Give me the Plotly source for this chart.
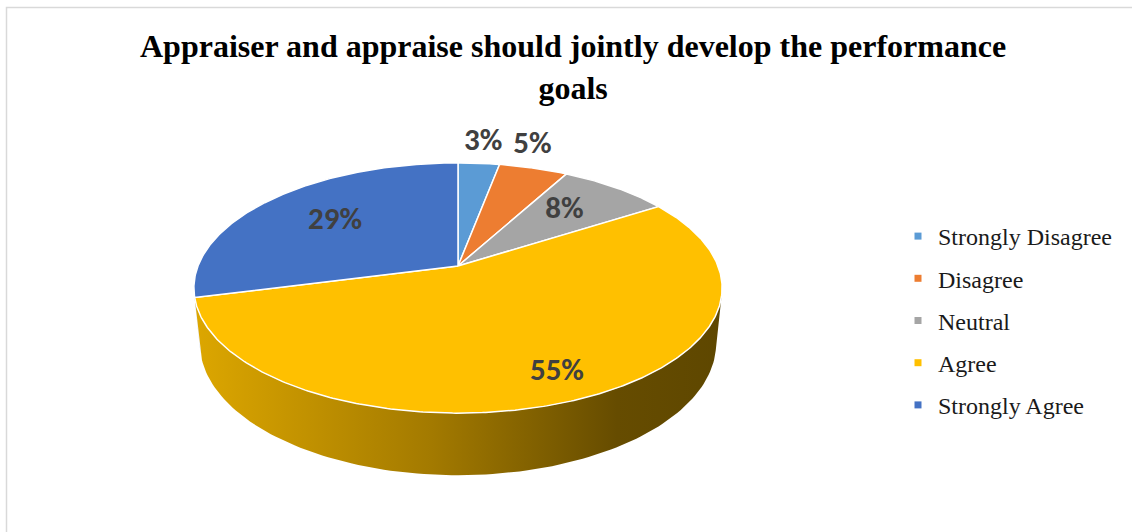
import numpy as np
import plotly.graph_objects as go

# ---------------- data ----------------
categories = ["Strongly Disagree", "Disagree", "Neutral", "Agree", "Strongly Agree"]
shares = [3, 5, 8, 55, 29]
pct_labels = ["3%", "5%", "8%", "55%", "29%"]
slice_colors = ["#5b9bd5", "#ed7d31", "#a5a5a5", "#ffc000", "#4472c4"]
title_text = "Appraiser and appraise should jointly develop the performance<br>goals"

# ---------------- styling / 3D projection parameters ----------------
W, H = 1132, 532
CX, CY = 458.0, 266.0      # projected pie centre (pixels)
RX = 260.0                 # horizontal radius scale (pixels)
TILT = np.radians(27.8)    # elevation of the viewer
DIST = 5.03                # camera distance (in pie radii)
THICK = 0.243              # pie thickness (in pie radii)
LABEL_RHO = [1.25, 1.26, 0.67, 0.83, 0.64]
LABEL_TURN = [0.0, -3.8, -1.5, 0.0, 0.0]


def project(theta, rho=1.0, elev=0.0):
    X = rho * np.sin(theta)
    Z = -rho * np.cos(theta)
    d = DIST - elev * np.sin(TILT) - Z * np.cos(TILT)
    sx = CX + RX * DIST * X / d
    sy = CY - RX * DIST * (elev * np.cos(TILT) - Z * np.sin(TILT)) / d
    return sx, sy


def shade(hex_color, f):
    h = hex_color.lstrip("#")
    r, g, b = (int(h[i:i + 2], 16) for i in (0, 2, 4))
    return f"rgb({int(r * f)},{int(g * f)},{int(b * f)})"


vals = np.array(shares, dtype=float)
bounds = np.concatenate([[0.0], np.cumsum(vals)]) / vals.sum() * 2 * np.pi

fig = go.Figure()

# side walls (visible front part of the cylinder)
theta_a = np.arccos(-1.0 / (DIST * np.cos(TILT)))
theta_b = 2 * np.pi - theta_a
for i, cat in enumerate(categories):
    lo, hi = max(bounds[i], theta_a), min(bounds[i + 1], theta_b)
    if hi <= lo:
        continue
    th = np.linspace(lo, hi, 120)
    tx, ty = project(th)
    bx, by = project(th[::-1], elev=-THICK)
    xs = np.concatenate([tx, bx, tx[:1]])
    ys = np.concatenate([ty, by, ty[:1]])
    c = slice_colors[i]
    fig.add_trace(go.Scatter(
        x=xs, y=ys, mode="lines", fill="toself",
        line=dict(width=0, color=shade(c, 0.6)),
        fillgradient=dict(
            type="horizontal",
            colorscale=[[0, shade(c, 0.87)], [0.45, shade(c, 0.64)],
                        [0.8, shade(c, 0.40)], [1, shade(c, 0.37)]],
            start=CX - RX * 1.02, stop=CX + RX * 1.02),
        hoverinfo="skip", showlegend=False))

# top faces
for i, cat in enumerate(categories):
    th = np.linspace(bounds[i], bounds[i + 1], max(8, int(shares[i] * 6)))
    rx_, ry_ = project(th)
    ax, ay = project(np.array([0.0]), rho=0.0)
    xs = np.concatenate([ax, rx_, ax])
    ys = np.concatenate([ay, ry_, ay])
    fig.add_trace(go.Scatter(
        x=xs, y=ys, mode="lines", fill="toself",
        fillcolor=slice_colors[i], line=dict(color="white", width=1.5),
        name=cat, text=f"{cat}: {pct_labels[i]}", hoverinfo="text",
        showlegend=False))

# data labels
mids = (bounds[:-1] + bounds[1:]) / 2 + np.radians(LABEL_TURN)
lx, ly = project(mids, rho=np.array(LABEL_RHO))
fig.add_trace(go.Scatter(
    x=lx, y=ly, mode="text", text=pct_labels,
    textfont=dict(family="Carlito, Calibri, Lato, sans-serif", size=31, color="#404040",
                  weight="bold"),
    hoverinfo="skip", showlegend=False))

# legend entries
for i, cat in enumerate(categories):
    fig.add_trace(go.Scatter(
        x=[None], y=[None], mode="markers", name=cat, legendgroup=cat,
        marker=dict(symbol="square", size=7, color=slice_colors[i]),
        showlegend=True))

fig.add_annotation(
    text=f"<b>{title_text}</b>", xref="paper", yref="paper",
    x=573 / W, y=1 - 67 / H, xanchor="center", yanchor="middle",
    showarrow=False, align="center",
    font=dict(family="Liberation Serif, Times New Roman, serif", size=32, color="#000000"))

# chart frame
fig.add_shape(type="rect", xref="paper", yref="paper",
              x0=6.5 / W, y0=1 - 7.5 / H, x1=1.05, y1=-0.05,
              line=dict(color="#d9d9d9", width=1.5), layer="below")

fig.update_layout(
    width=W, height=H, margin=dict(l=0, r=0, t=0, b=0),
    paper_bgcolor="white", plot_bgcolor="white",
    xaxis=dict(range=[0, W], visible=False, fixedrange=True),
    yaxis=dict(range=[H, 0], visible=False, fixedrange=True),
    legend=dict(x=(938 - 40) / W, y=1 - 214 / H, xanchor="left", yanchor="top",
                traceorder="grouped", tracegroupgap=8, itemwidth=30,
                font=dict(family="Liberation Serif, Times New Roman, serif", size=24,
                          color="#1a1a1a"),
                bgcolor="rgba(0,0,0,0)"),
    showlegend=True,
)

fig.write_html("out.html", config={"displayModeBar": False},
               post_script="document.body.style.margin='0px';document.body.style.overflow='hidden';")
